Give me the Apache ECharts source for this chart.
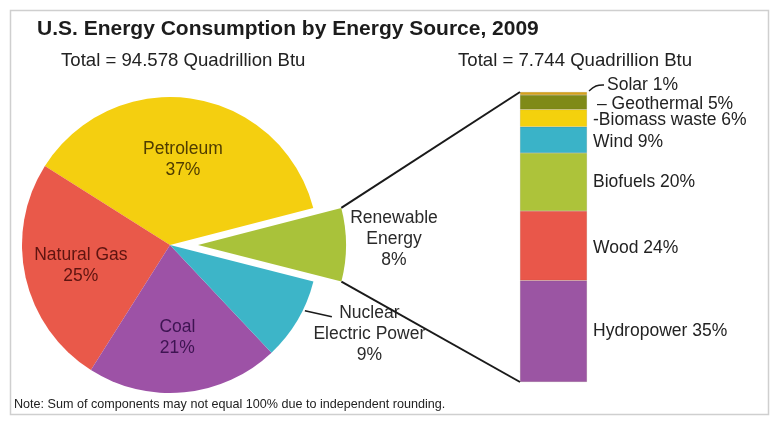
<!DOCTYPE html>
<html>
<head>
<meta charset="utf-8">
<script src="https://cdn.jsdelivr.net/npm/echarts@6/dist/echarts.min.js"></script>
<style>
html,body{margin:0;padding:0;background:#fff;}
#c{width:775px;height:422px;}
</style>
</head>
<body>
<div id="c"></div>
<script>
// ---------- data ----------
const titleText = 'U.S. Energy Consumption by Energy Source, 2009';
const totalLeftText = 'Total = 94.578 Quadrillion Btu';
const totalRightText = 'Total = 7.744 Quadrillion Btu';
const noteText = 'Note: Sum of components may not equal 100% due to independent rounding.';

const pieNames = ['Petroleum', 'Natural Gas', 'Coal', 'Nuclear Electric Power', 'Renewable Energy'];
const pieLabels = ['Petroleum', 'Natural Gas', 'Coal', 'Nuclear\nElectric Power', 'Renewable\nEnergy'];
const pieValues = [37, 25, 21, 9, 8];

// renewable breakdown, stacked bottom -> top
const renewNames = ['Hydropower', 'Wood', 'Biofuels', 'Wind', 'Biomass waste', 'Geothermal', 'Solar'];
const renewValues = [35, 24, 20, 9, 6, 5, 1];

// ---------- styles ----------
const FONT = '"Liberation Sans", Arial, Helvetica, sans-serif';
const pieColors = ['#f4cf10', '#e9594a', '#9d52a6', '#3db5c8', '#a9c23a'];
const pieLabelColors = ['#4f3c00', '#5e1410', '#3e1452', '#2a2a2a', '#2a2a2a'];
// label shifts relative to the library's default "inside" placement
const pieLabelShift = [[1, -9], [-14, 4], [0, 16], [133, 50], [119, -6]];
const barColors = ['#9b55a3', '#e9574a', '#adc33a', '#3ab3c8', '#f4d10d', '#7f8a18', '#d6a21a'];
const barLabelText = ['Hydropower 35%', 'Wood 24%', 'Biofuels 20%', 'Wind 9%', '-Biomass waste 6%', '\u2013 Geothermal 5%', 'Solar 1%'];
const barLabelOffset = [[0, 0], [0, 2], [0, 0], [0, 2], [0, 2], [4, 2], [14, -8]];

const PIE_CENTER = [170, 245];
const PIE_R = 148;
const START_ANGLE = 14.5;
const EXPLODE = 28;
const EXPLODED = 4; // index of the pulled-out slice

// centre of the pulled-out slice: moved along its bisector
const pieTotal = pieValues.reduce((a, b) => a + b, 0);
const before = pieValues.slice(0, EXPLODED).reduce((a, b) => a + b, 0);
const midDeg = START_ANGLE + (before + pieValues[EXPLODED] / 2) / pieTotal * 360; // counter-clockwise
const midRad = midDeg * Math.PI / 180;
const explodedCenter = [PIE_CENTER[0] + EXPLODE * Math.cos(midRad), PIE_CENTER[1] - EXPLODE * Math.sin(midRad)];

function pieSeries(center, visibleFn) {
  return {
    type: 'pie',
    center: center,
    radius: PIE_R,
    startAngle: START_ANGLE,
    clockwise: false,
    avoidLabelOverlap: false,
    silent: true,
    emphasis: {disabled: true},
    labelLine: {show: false},
    label: {
      show: true,
      position: 'inside',
      fontFamily: FONT,
      fontSize: 17.5,
      lineHeight: 21,
      align: 'center',
      formatter: p => pieLabels[p.dataIndex] + '\n' + p.value + '%'
    },
    labelLayout: function (params) {
      const s = pieLabelShift[params.dataIndex];
      const r = params.labelRect;
      return {x: r.x + r.width / 2 + s[0], y: r.y + r.height / 2 + s[1]};
    },
    data: pieNames.map((n, i) => ({
      name: n,
      value: pieValues[i],
      itemStyle: {color: pieColors[i], opacity: visibleFn(i) ? 1 : 0},
      label: {color: pieLabelColors[i], show: visibleFn(i)}
    }))
  };
}

const chart = echarts.init(document.getElementById('c'), null, {renderer: 'canvas'});

const borderGraphic = {type: 'rect', left: 8, top: 8, shape: {width: 758, height: 404},
  style: {fill: 'none', stroke: '#cfcfcf', lineWidth: 1.5}, silent: true, z: 0};

const option = {
  animation: false,
  backgroundColor: '#ffffff',
  title: [
    {text: titleText, left: 37, top: 19, padding: 0,
     textStyle: {fontFamily: FONT, fontSize: 21, fontWeight: 'bold', color: '#1c1c1c'}},
    {text: totalLeftText, left: 61, top: 51, padding: 0,
     textStyle: {fontFamily: FONT, fontSize: 18.6, fontWeight: 'normal', color: '#222'}},
    {text: totalRightText, left: 458, top: 51, padding: 0,
     textStyle: {fontFamily: FONT, fontSize: 18.6, fontWeight: 'normal', color: '#222'}},
    {text: noteText, left: 14, top: 398, padding: 0,
     textStyle: {fontFamily: FONT, fontSize: 12.6, fontWeight: 'normal', color: '#222'}}
  ],
  grid: {left: 520, top: 92, width: 67, height: 290, containLabel: false},
  xAxis: {type: 'category', data: ['Renewable'], show: false},
  yAxis: {type: 'value', min: 0, max: 100, show: false},
  graphic: [borderGraphic],
  series: [
    pieSeries(PIE_CENTER, i => i !== EXPLODED),
    pieSeries(explodedCenter, i => i === EXPLODED)
  ].concat(renewNames.map((n, i) => ({
    type: 'bar',
    name: n,
    stack: 'renew',
    barWidth: '100%',
    data: [renewValues[i]],
    itemStyle: {color: barColors[i], borderColor: 'rgba(60,40,0,0.2)', borderWidth: 0.5},
    emphasis: {disabled: true},
    label: {
      show: true,
      position: 'right',
      distance: 6,
      offset: barLabelOffset[i],
      fontFamily: FONT,
      fontSize: 17.5,
      color: '#222',
      formatter: () => barLabelText[i]
    }
  })))
};

chart.setOption(option);

// ---------- connector lines derived from the library's layout ----------
function overlays() {
  function sector(seriesIndex, i) {
    const L = chart.getModel().getSeriesByIndex(seriesIndex).getData().getItemLayout(i);
    return {cx: L.cx, cy: L.cy, r: L.r, a0: L.startAngle, a1: L.endAngle};
  }
  const pt = (s, a, rr) => [s.cx + rr * Math.cos(a), s.cy + rr * Math.sin(a)];

  const ren = sector(1, EXPLODED);
  const q0 = pt(ren, ren.a0, ren.r), q1 = pt(ren, ren.a1, ren.r);
  const renTop = q0[1] < q1[1] ? q0 : q1;
  const renBot = q0[1] < q1[1] ? q1 : q0;

  const rect = chart.getModel().getComponent('grid', 0).coordinateSystem.getRect();
  const topY = chart.convertToPixel({yAxisIndex: 0}, 100);
  const botY = chart.convertToPixel({yAxisIndex: 0}, 0);
  const barL = rect.x, barR = rect.x + rect.width;

  const nuc = sector(0, 3);
  const n0 = pt(nuc, nuc.a0, nuc.r), n1 = pt(nuc, nuc.a1, nuc.r);
  const near = n0[1] < n1[1] ? nuc.a0 : nuc.a1;
  const far = n0[1] < n1[1] ? nuc.a1 : nuc.a0;
  const na = near + (far - near) * 0.36;
  const ns = pt(nuc, na, nuc.r + 2);

  const lineStyle = {stroke: '#1a1a1a', lineWidth: 2, fill: 'none'};
  chart.setOption({
    graphic: [
      borderGraphic,
      {type: 'polyline', shape: {points: [renTop, [barL, topY]]}, style: lineStyle, silent: true, z: 10},
      {type: 'polyline', shape: {points: [renBot, [barL, botY]]}, style: lineStyle, silent: true, z: 10},
      {type: 'polyline', shape: {points: [ns, [ns[0] + 27, ns[1] + 6]]},
       style: {stroke: '#1a1a1a', lineWidth: 1.6, fill: 'none'}, silent: true, z: 10},
      {type: 'polyline', shape: {points: [[barR + 2, topY - 1], [barR + 9, topY - 6], [barR + 17, topY - 7]], smooth: 0.4},
       style: {stroke: '#1a1a1a', lineWidth: 1.4, fill: 'none'}, silent: true, z: 10}
    ]
  }, {replaceMerge: ['graphic']});
}
overlays();
</script>
</body>
</html>
